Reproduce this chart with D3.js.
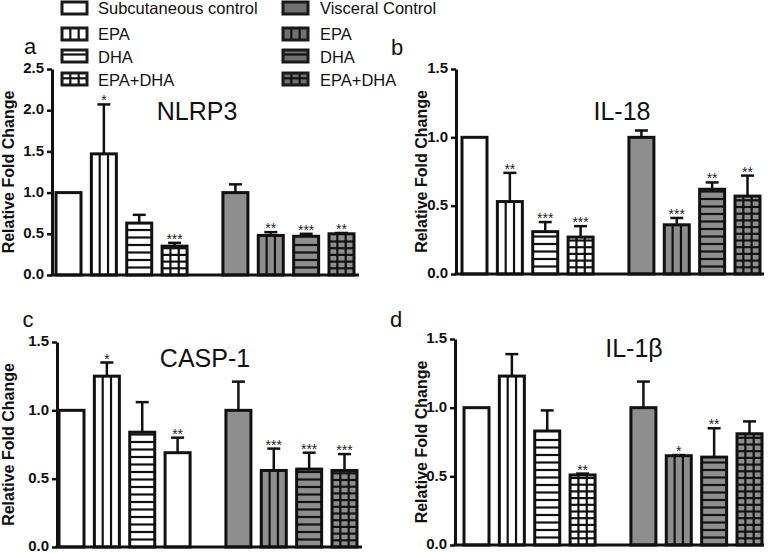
<!DOCTYPE html>
<html><head><meta charset="utf-8">
<script src="https://cdn.jsdelivr.net/npm/d3@7"></script>
<style>body{margin:0;background:#fff} svg{display:block;font-family:"Liberation Sans",Arial,Helvetica,sans-serif}</style>
</head><body><svg id="chart" width="768" height="553"></svg>
<script>
// ---- data ----
const groupLabels = ["Subcutaneous control","EPA","DHA","EPA+DHA","Visceral Control","EPA","DHA","EPA+DHA"];
const tissue = ["sc","sc","sc","sc","vis","vis","vis","vis"];
const treatment = ["control","EPA","DHA","EPA+DHA","control","EPA","DHA","EPA+DHA"];

const nlrp3Mean = [1.00, 1.47, 0.63, 0.35, 1.00, 0.48, 0.47, 0.50];
const nlrp3Sem  = [0.00, 0.60, 0.10, 0.04, 0.10, 0.04, 0.03, 0.01];
const nlrp3Stars = ["", "*", "", "***", "", "**", "***", "**"];

const il18Mean = [1.00, 0.53, 0.31, 0.27, 1.00, 0.36, 0.62, 0.57];
const il18Sem  = [0.00, 0.21, 0.07, 0.08, 0.05, 0.05, 0.05, 0.15];
const il18Stars = ["", "**", "***", "***", "", "***", "**", "**"];

const casp1Mean = [1.00, 1.25, 0.84, 0.69, 1.00, 0.56, 0.57, 0.56];
const casp1Sem  = [0.00, 0.10, 0.22, 0.11, 0.21, 0.16, 0.12, 0.12];
const casp1Stars = ["", "*", "", "**", "", "***", "***", "***"];

const il1bMean = [1.00, 1.23, 0.83, 0.51, 1.00, 0.65, 0.64, 0.81];
const il1bSem  = [0.00, 0.16, 0.15, 0.01, 0.19, 0.005, 0.21, 0.09];
const il1bStars = ["", "", "", "**", "", "*", "**", ""];

const ticksA = [0, 0.5, 1.0, 1.5, 2.0, 2.5];
const ticksB = [0, 0.5, 1.0, 1.5];

// ---- layout ----
const panels = [
  {letter:"a", title:"NLRP3", mean:nlrp3Mean, sem:nlrp3Sem, stars:nlrp3Stars, yMax:2.5, ticks:ticksA,
   axisX:52, yTop:69, yBottom:275, bar1X:56, xEnd:359, titleX:197, titleY:120, letterX:30, letterY:54, yTitleX:14},
  {letter:"b", title:"IL-18", mean:il18Mean, sem:il18Sem, stars:il18Stars, yMax:1.5, ticks:ticksB,
   axisX:456, yTop:69, yBottom:274, bar1X:462, xEnd:764, titleX:622, titleY:120, letterX:397, letterY:55, yTitleX:427},
  {letter:"c", title:"CASP-1", mean:casp1Mean, sem:casp1Sem, stars:casp1Stars, yMax:1.5, ticks:ticksB,
   axisX:57, yTop:342, yBottom:547, bar1X:59, xEnd:362, titleX:205, titleY:367, letterX:28, letterY:327, yTitleX:14},
  {letter:"d", title:"IL-1\u03B2", mean:il1bMean, sem:il1bSem, stars:il1bStars, yMax:1.5, ticks:ticksB,
   axisX:455, yTop:339, yBottom:545, bar1X:464, xEnd:764, titleX:634, titleY:357, letterX:396, letterY:327, yTitleX:427}
];

const svg = d3.select("#chart");
const barW = 25;
const scFill = "#ffffff", visFill = "#8e8e8e";

function drawPattern(g, x, y, w, h, kind, bottom, lw) {
  const col = "#111";
  if (kind === "EPA" || kind === "EPA+DHA") {
    d3.range(1, 3).forEach(k => {
      g.append("line").attr("x1", x + k*w/3).attr("x2", x + k*w/3)
        .attr("y1", y).attr("y2", y + h).attr("stroke", col).attr("stroke-width", lw);
    });
  }
  if (kind === "DHA" || kind === "EPA+DHA") {
    const sp = kind === "DHA" ? 7.5 : 6.7;
    for (let yy = bottom - sp; yy > y + 2; yy -= sp) {
      g.append("line").attr("x1", x).attr("x2", x + w)
        .attr("y1", yy).attr("y2", yy).attr("stroke", col).attr("stroke-width", lw);
    }
  }
}

panels.forEach(p => {
  const g = svg.append("g");
  const y = d3.scaleLinear().domain([0, p.yMax]).range([p.yBottom, p.yTop]);
  const xPos = d3.scaleLinear().domain([0, 7.72]).range([p.bar1X, p.bar1X + 273]);
  const pos = i => xPos(i < 4 ? i : i + 0.72);

  // bars
  p.mean.forEach((m, i) => {
    const bx = pos(i), by = y(m), bh = y(0) - y(m);
    const bg = g.append("g");
    bg.append("rect").attr("x", bx).attr("y", by).attr("width", barW).attr("height", bh)
      .attr("fill", tissue[i] === "sc" ? scFill : visFill);
    // CASP-1 subcutaneous EPA+DHA bar drawn without pattern in original
    const kind = (p.letter === "c" && i === 3) ? "control" : treatment[i];
    drawPattern(bg, bx, by, barW, bh, kind, y(0), 2.2);
    bg.append("rect").attr("x", bx).attr("y", by).attr("width", barW).attr("height", bh)
      .attr("fill", "none").attr("stroke", "#111").attr("stroke-width", 3);
    // error bar
    const s = p.sem[i];
    if (s > 0) {
      const cx = bx + barW/2, top = y(m + s);
      g.append("line").attr("x1", cx).attr("x2", cx).attr("y1", by).attr("y2", top)
        .attr("stroke", "#111").attr("stroke-width", 2.5);
      g.append("line").attr("x1", cx - 6.5).attr("x2", cx + 6.5).attr("y1", top).attr("y2", top)
        .attr("stroke", "#111").attr("stroke-width", 2.5);
    }
    if (p.stars[i]) {
      g.append("text").attr("x", bx + barW/2).attr("y", y(m + s) + 1)
        .attr("text-anchor", "middle").attr("font-size", 14).attr("fill", "#222").text(p.stars[i]);
    }
  });

  // y axis
  const ax = g.append("g").attr("transform", `translate(${p.axisX},0)`)
    .call(d3.axisLeft(y).tickValues(p.ticks).tickFormat(d3.format(".1f")).tickSize(5).tickSizeOuter(0).tickPadding(3));
  ax.select(".domain").attr("stroke", "#111").attr("stroke-width", 3);
  ax.selectAll(".tick line").attr("stroke", "#111").attr("stroke-width", 2.5);
  ax.selectAll(".tick text").attr("font-size", 15).attr("font-weight", "bold").attr("fill", "#111")
    .attr("dy", "0.25em")
    .attr("font-family", '"Liberation Sans",Arial,sans-serif');

  // x axis baseline
  g.append("line").attr("x1", p.axisX - 1.5).attr("x2", p.xEnd).attr("y1", y(0)).attr("y2", y(0))
    .attr("stroke", "#111").attr("stroke-width", 3);

  // y axis title
  g.append("text").attr("transform", `translate(${p.yTitleX},${(p.yTop + p.yBottom)/2}) rotate(-90)`)
    .attr("text-anchor", "middle").attr("font-size", 16).attr("font-weight", "bold").attr("fill", "#111")
    .text("Relative Fold Change");

  // gene title
  g.append("text").attr("x", p.titleX).attr("y", p.titleY).attr("text-anchor", "middle")
    .attr("font-size", 25).attr("fill", "#111").text(p.title);

  // panel letter
  g.append("text").attr("x", p.letterX).attr("y", p.letterY).attr("text-anchor", "middle")
    .attr("font-size", 22).attr("fill", "#111").text(p.letter);
});

// ---- legend ----
const legRowsY = [2, 28, 50, 73];
const legTextY = [14, 40, 63, 86];
const leg = svg.append("g");
groupLabels.forEach((lab, i) => {
  const colIdx = i < 4 ? 0 : 1;
  const row = i % 4;
  const sx = colIdx === 0 ? 62 : 283;
  const tx = colIdx === 0 ? 98 : 320;
  const sy = legRowsY[row], sh = 12, sw = 25;
  const gg = leg.append("g");
  gg.append("rect").attr("x", sx).attr("y", sy).attr("width", sw).attr("height", sh)
    .attr("fill", tissue[i] === "sc" ? "#fff" : "#707070");
  drawPattern(gg, sx, sy, sw, sh, treatment[i], sy + sh, 2.2);
  gg.append("rect").attr("x", sx).attr("y", sy).attr("width", sw).attr("height", sh)
    .attr("fill", "none").attr("stroke", "#1a1a1a").attr("stroke-width", 3);
  leg.append("text").attr("x", tx).attr("y", legTextY[row]).attr("font-size", 16.5).attr("fill", "#111").text(lab);
});
</script>
</body></html>
